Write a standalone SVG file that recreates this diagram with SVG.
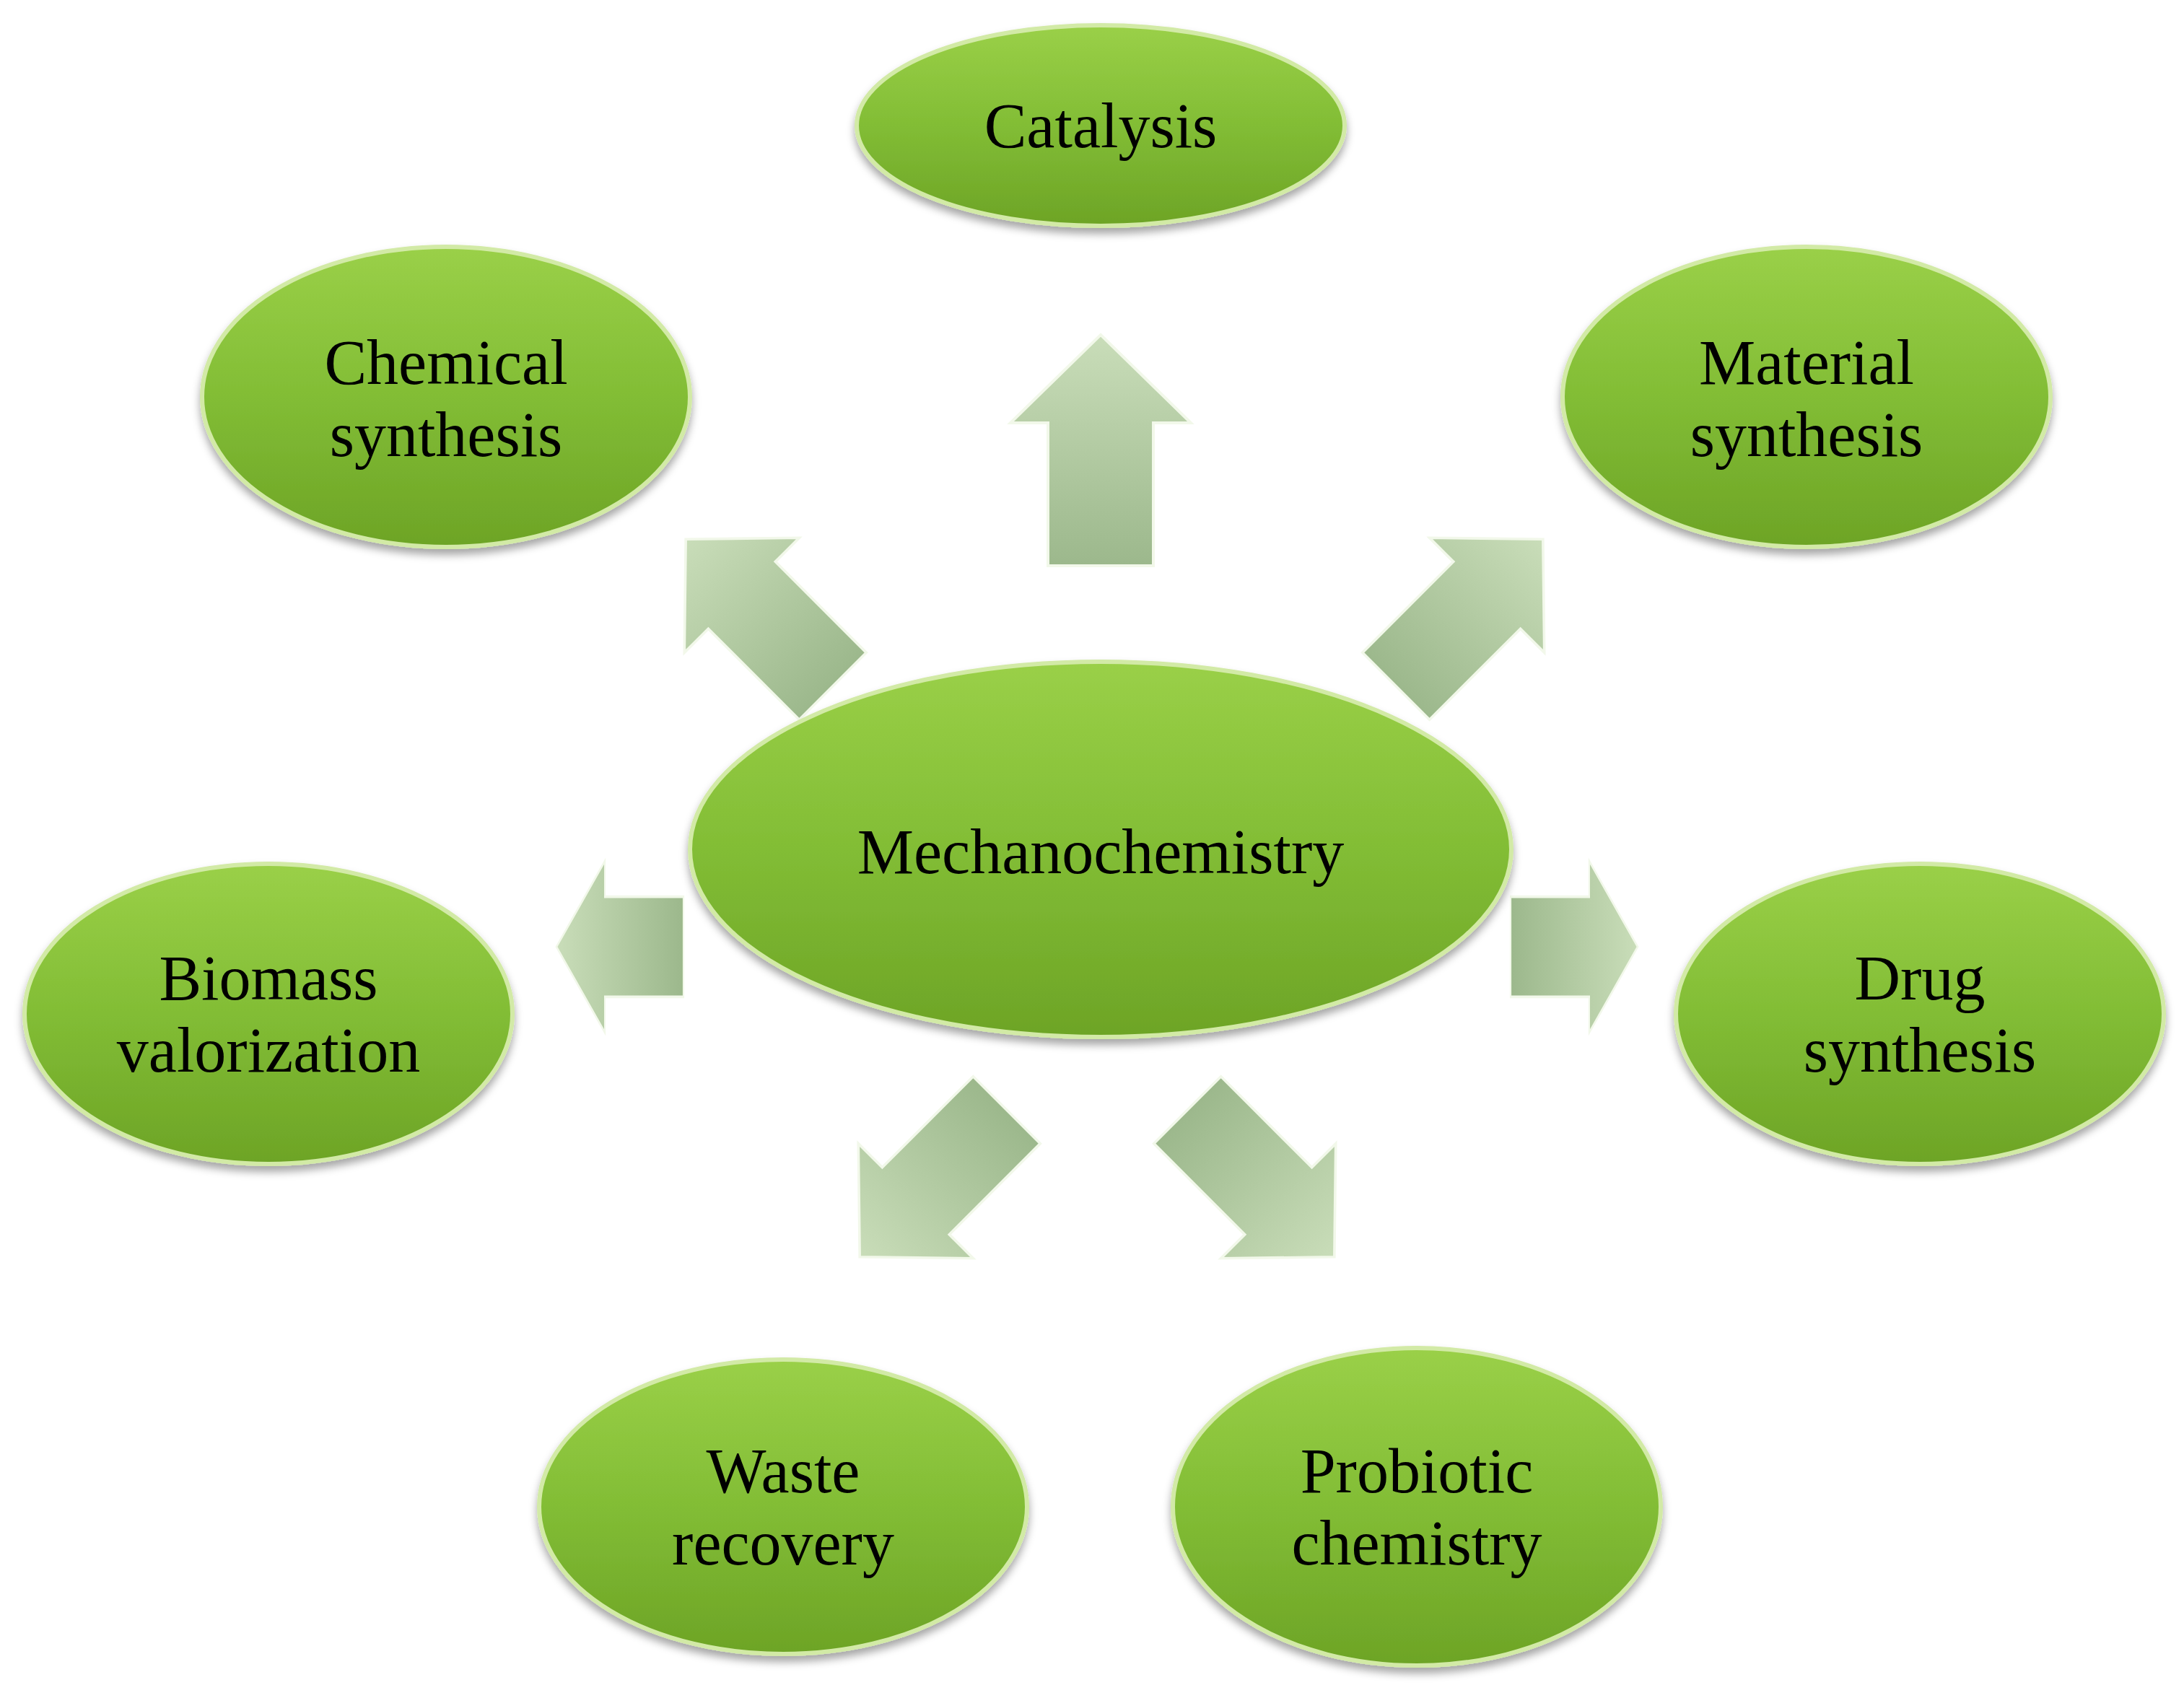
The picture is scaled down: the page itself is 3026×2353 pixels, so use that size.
<svg xmlns="http://www.w3.org/2000/svg" width="3026" height="2353" viewBox="0 0 3026 2353">
<style>
.n{fill:url(#eg);stroke:#d2eaa6;stroke-width:6}
.t{font-family:"Liberation Serif",serif;font-size:88px;fill:#000;text-anchor:middle}
.a{fill:url(#ag);stroke:#f2f8ea;stroke-width:4}
</style>
<defs>
<linearGradient id="eg" x1="0" y1="0" x2="0" y2="1">
<stop offset="0" stop-color="#9ad048"/><stop offset="0.5" stop-color="#82bd35"/><stop offset="1" stop-color="#6da426"/>
</linearGradient>
<linearGradient id="ag" x1="0" y1="0" x2="0" y2="1">
<stop offset="0" stop-color="#c9ddb9"/><stop offset="1" stop-color="#9cb88c"/>
</linearGradient>
<filter id="sh" x="-10%" y="-10%" width="120%" height="130%"><feDropShadow dx="0" dy="8" stdDeviation="6" flood-color="#000" flood-opacity="0.35"/></filter>
<path id="arr" d="M0,-160 L125,-38 L73,-38 L73,160 L-73,160 L-73,-38 L-125,-38 Z"/>
</defs>
<rect width="3026" height="2353" fill="#fff"/>
<g id="connectors">
<use href="#arr" class="a" transform="translate(1525,624)"/>
<use href="#arr" class="a" transform="translate(1052,849) rotate(-45) scale(0.9)"/>
<use href="#arr" class="a" transform="translate(2036,849) rotate(45) scale(0.9)"/>
<use href="#arr" class="a" transform="translate(859,1312) rotate(-90) scale(0.95,0.55)"/>
<use href="#arr" class="a" transform="translate(2181,1312) rotate(90) scale(0.95,0.55)"/>
<use href="#arr" class="a" transform="translate(1293,1640) rotate(-135) scale(0.9)"/>
<use href="#arr" class="a" transform="translate(1747,1640) rotate(135) scale(0.9)"/>
</g>
<g id="catalysis" filter="url(#sh)"><ellipse class="n" cx="1525" cy="174" rx="338" ry="139"/><text class="t" x="1525" y="204">Catalysis</text></g>
<g id="chemical" filter="url(#sh)"><ellipse class="n" cx="618" cy="550" rx="338" ry="208"/><text class="t" x="618" y="532">Chemical</text><text class="t" x="618" y="632">synthesis</text></g>
<g id="material" filter="url(#sh)"><ellipse class="n" cx="2503" cy="550" rx="338" ry="208"/><text class="t" x="2503" y="532">Material</text><text class="t" x="2503" y="632">synthesis</text></g>
<g id="mechano" filter="url(#sh)"><ellipse class="n" cx="1525" cy="1177" rx="569" ry="260"/><text class="t" x="1525" y="1210">Mechanochemistry</text></g>
<g id="biomass" filter="url(#sh)"><ellipse class="n" cx="372" cy="1405" rx="338" ry="208"/><text class="t" x="372" y="1385">Biomass</text><text class="t" x="372" y="1485">valorization</text></g>
<g id="drug" filter="url(#sh)"><ellipse class="n" cx="2660" cy="1405" rx="338" ry="208"/><text class="t" x="2660" y="1385">Drug</text><text class="t" x="2660" y="1485">synthesis</text></g>
<g id="waste" filter="url(#sh)"><ellipse class="n" cx="1085" cy="2088" rx="338" ry="204"/><text class="t" x="1085" y="2068">Waste</text><text class="t" x="1085" y="2168">recovery</text></g>
<g id="probiotic" filter="url(#sh)"><ellipse class="n" cx="1963" cy="2088" rx="338" ry="220"/><text class="t" x="1963" y="2068">Probiotic</text><text class="t" x="1963" y="2168">chemistry</text></g>
</svg>
